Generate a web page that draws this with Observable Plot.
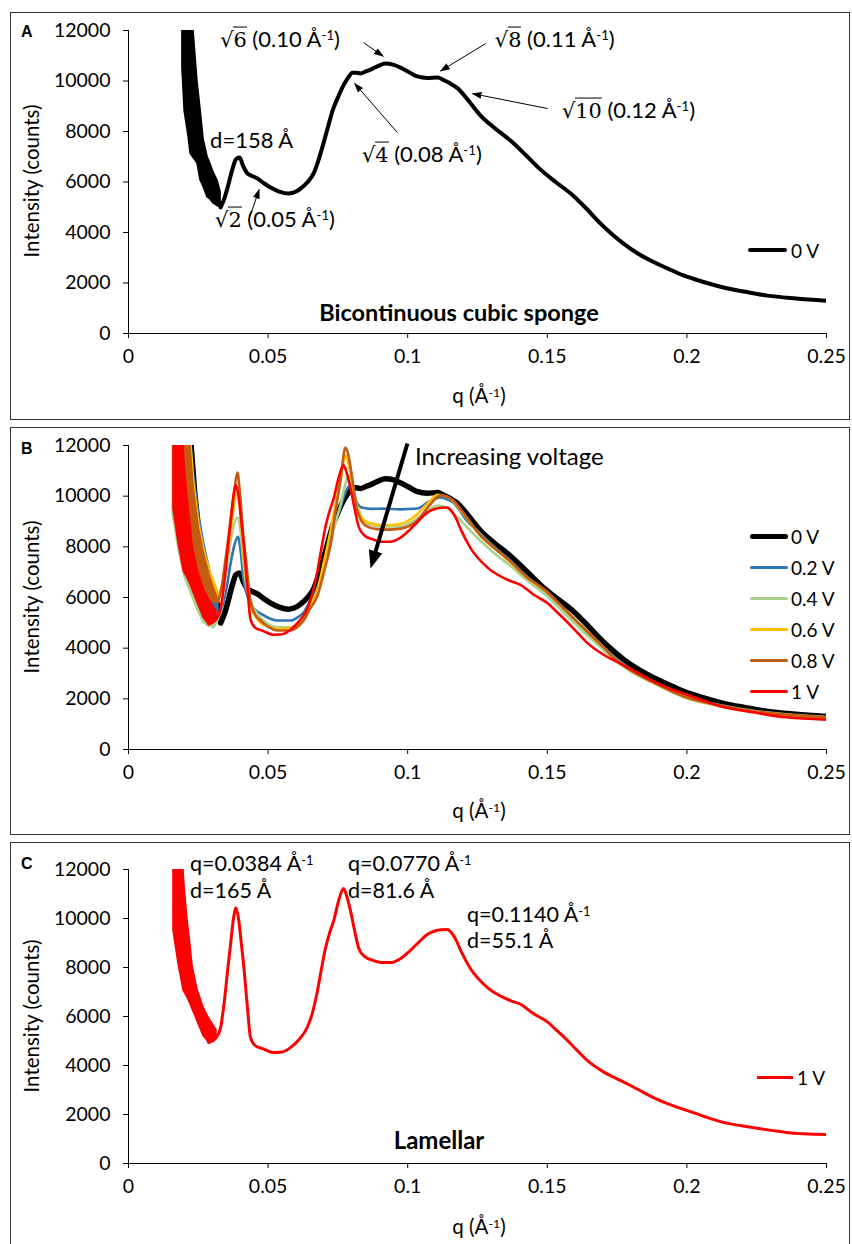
<!DOCTYPE html>
<html>
<head>
<meta charset="utf-8">
<script src="https://cdn.jsdelivr.net/npm/d3@7"></script>
<script src="https://cdn.jsdelivr.net/npm/@observablehq/plot@0.6"></script>
<style>
  body { margin: 0; background: #fff; }
  #page { position: relative; width: 852px; height: 1244px; overflow: hidden; font-family: Lato, "Open Sans", sans-serif; color: #000; }
  #page sup { font-size: 0.6em; vertical-align: 0.5em; line-height: 0; }
  .rad { font-family: "DejaVu Serif", serif; font-size: 0.95em; }
  .vin { border-top: 1.3px solid #000; }
</style>
</head>
<body>
<div id="page"></div>
<script>
// ---------- axes ----------
const xTicks = [0, 0.05, 0.1, 0.15, 0.2, 0.25];
const xTickLabels = ["0", "0.05", "0.1", "0.15", "0.2", "0.25"];
const yTicks = [0, 2000, 4000, 6000, 8000, 10000, 12000];
const yTickLabels = ["0", "2000", "4000", "6000", "8000", "10000", "12000"];

// ---------- series ----------
const seriesNames = ["0 V", "0.2 V", "0.4 V", "0.6 V", "0.8 V", "1 V"];
const seriesColors = ["#000000", "#2e75b6", "#a9d18e", "#ffc000", "#c55a11", "#ff0000"];

// noisy low-q region: [q, lower envelope, upper envelope]
const band0V = [[0.0193,10500,12000],[0.0201,8800,12000],[0.0215,7800,12000],[0.0222,7130,12000],[0.0233,6950,12000],[0.0240,6850,11000],[0.0247,6730,10000],[0.0258,6060,8900],[0.0269,5800,7700],[0.0283,5390,7000],[0.0294,5300,6700],[0.0304,5150,6400],[0.0319,5050,6060],[0.0330,4990,5600]];
const band02V = [[0.0193,10200,12000],[0.0208,8600,12000],[0.0226,7400,12000],[0.0236,7100,10800],[0.0254,6600,9200],[0.0272,6000,8100],[0.0294,5600,7000],[0.0312,5300,6200],[0.0322,5250,5700]];
const band04V = [[0.0158,9300,12000],[0.0179,7900,12000],[0.0201,6800,12000],[0.0211,6500,9900],[0.0229,6000,8200],[0.0247,5500,7100],[0.0269,5000,6300],[0.0287,4850,5700],[0.0304,4820,5200]];
const band06V = [[0.0186,10000,12000],[0.0204,8600,12000],[0.0226,7500,12000],[0.0236,7200,10500],[0.0254,6700,8900],[0.0272,6300,7900],[0.0294,6000,7000],[0.0312,5900,6500],[0.0322,5950,6200]];
const band08V = [[0.0190,10000,12000],[0.0204,8500,12000],[0.0222,7400,12000],[0.0233,7100,10400],[0.0251,6600,8800],[0.0269,6200,7800],[0.0290,5900,6900],[0.0308,5800,6300],[0.0319,5800,6000]];
const band1V = [[0.0161,9500,12000],[0.0179,8160,12000],[0.0197,7060,12000],[0.0202,6950,11140],[0.0211,6770,10000],[0.0222,6500,8900],[0.0229,6300,8100],[0.0247,5800,7100],[0.0269,5200,6360],[0.0287,4940,5950],[0.0301,5000,5700],[0.0315,5150,5450]];

// [q (Å-1), intensity (counts)]
const line0V = [[0.0330,4990],[0.0345,5400],[0.0355,5780],[0.0372,6500],[0.0385,6900],[0.0398,6970],[0.0410,6650],[0.0426,6340],[0.0440,6250],[0.0462,6140],[0.0485,5950],[0.0509,5780],[0.0540,5620],[0.0573,5540],[0.0600,5620],[0.0616,5740],[0.0640,5980],[0.0663,6340],[0.0680,6850],[0.0698,7520],[0.0715,8200],[0.0731,8830],[0.0750,9350],[0.0766,9740],[0.0785,10100],[0.0802,10330],[0.0815,10330],[0.0831,10300],[0.0850,10380],[0.0867,10450],[0.0895,10600],[0.0920,10690],[0.0950,10640],[0.0974,10530],[0.1005,10350],[0.1035,10180],[0.1070,10120],[0.1107,10140],[0.1130,10030],[0.1153,9900],[0.1180,9700],[0.1200,9460],[0.1230,9050],[0.1261,8630],[0.1310,8150],[0.1368,7640],[0.1420,7100],[0.1476,6490],[0.1530,6000],[0.1594,5450],[0.1640,4950],[0.1690,4360],[0.1730,3950],[0.1773,3560],[0.1820,3200],[0.1870,2890],[0.1930,2580],[0.1988,2300],[0.2060,2040],[0.2131,1820],[0.2210,1650],[0.2289,1500],[0.2390,1390],[0.2500,1300]];
const line02V = [[0.0322,5250],[0.0335,5600],[0.0350,6300],[0.0365,7300],[0.0380,8100],[0.0392,8400],[0.0402,7800],[0.0412,6700],[0.0425,6100],[0.0437,5760],[0.0455,5500],[0.0473,5370],[0.0500,5200],[0.0534,5090],[0.0580,5090],[0.0610,5250],[0.0627,5410],[0.0650,5850],[0.0677,6390],[0.0700,7300],[0.0723,8250],[0.0740,9000],[0.0759,9550],[0.0775,10100],[0.0792,10400],[0.0805,10100],[0.0820,9700],[0.0835,9550],[0.0870,9500],[0.0913,9510],[0.0974,9480],[0.1035,9510],[0.1075,9780],[0.1118,9950],[0.1140,9880],[0.1164,9750],[0.1185,9450],[0.1207,9100],[0.1260,8530],[0.1310,8000],[0.1368,7450],[0.1420,6900],[0.1500,6150],[0.1560,5550],[0.1644,4600],[0.1700,4050],[0.1750,3550],[0.1810,3100],[0.1875,2700],[0.1940,2350],[0.2000,2080],[0.2125,1750],[0.2250,1520],[0.2375,1380],[0.2500,1290]];
const line04V = [[0.0304,4820],[0.0318,5100],[0.0330,5500],[0.0343,6400],[0.0355,7400],[0.0370,8500],[0.0390,9160],[0.0400,8700],[0.0410,7600],[0.0419,6670],[0.0437,5880],[0.0455,5450],[0.0473,5210],[0.0500,4950],[0.0534,4820],[0.0580,4820],[0.0610,5000],[0.0627,5210],[0.0650,5700],[0.0677,6280],[0.0700,7150],[0.0723,8050],[0.0740,8900],[0.0759,9630],[0.0775,10400],[0.0788,10810],[0.0800,10400],[0.0813,9830],[0.0830,9300],[0.0850,8950],[0.0913,8800],[0.0974,8800],[0.1035,9120],[0.1075,9450],[0.1107,9630],[0.1140,9550],[0.1153,9430],[0.1180,9150],[0.1207,8840],[0.1260,8250],[0.1310,7750],[0.1368,7250],[0.1420,6750],[0.1500,6050],[0.1560,5400],[0.1644,4500],[0.1700,3950],[0.1750,3450],[0.1810,3000],[0.1875,2650],[0.1940,2300],[0.2000,2020],[0.2125,1700],[0.2250,1480],[0.2375,1340],[0.2500,1250]];
const line06V = [[0.0315,5900],[0.0330,6300],[0.0345,7000],[0.0357,7900],[0.0368,8800],[0.0380,9800],[0.0389,10200],[0.0398,9700],[0.0408,8300],[0.0419,6900],[0.0437,5700],[0.0455,5250],[0.0473,5000],[0.0500,4850],[0.0534,4750],[0.0580,4800],[0.0610,4950],[0.0627,5100],[0.0650,5600],[0.0677,6300],[0.0700,7400],[0.0723,8600],[0.0740,9600],[0.0759,10600],[0.0777,11600],[0.0790,11200],[0.0802,10500],[0.0815,9700],[0.0831,9200],[0.0860,8950],[0.0913,8850],[0.0974,8900],[0.1035,9300],[0.1075,9750],[0.1107,10050],[0.1140,9980],[0.1164,9800],[0.1185,9500],[0.1207,9200],[0.1260,8450],[0.1310,7950],[0.1368,7400],[0.1420,6850],[0.1500,6200],[0.1560,5550],[0.1644,4650],[0.1700,4050],[0.1750,3500],[0.1810,3050],[0.1875,2680],[0.1940,2330],[0.2000,2050],[0.2125,1720],[0.2250,1500],[0.2375,1360],[0.2500,1270]];
const line08V = [[0.0319,5800],[0.0332,6300],[0.0345,7300],[0.0357,8300],[0.0368,9300],[0.0380,10300],[0.0390,10930],[0.0400,10000],[0.0410,8600],[0.0419,7660],[0.0437,5880],[0.0455,5300],[0.0473,5090],[0.0500,4850],[0.0534,4700],[0.0580,4700],[0.0610,4880],[0.0627,5090],[0.0650,5550],[0.0677,6080],[0.0700,7000],[0.0723,8050],[0.0740,9300],[0.0759,10620],[0.0777,11920],[0.0788,11600],[0.0800,10800],[0.0820,9430],[0.0849,8840],[0.0890,8700],[0.0928,8680],[0.0974,8720],[0.1035,9040],[0.1075,9600],[0.1118,10030],[0.1140,9980],[0.1164,9830],[0.1185,9550],[0.1207,9240],[0.1260,8450],[0.1310,7950],[0.1368,7420],[0.1420,6870],[0.1500,6220],[0.1560,5550],[0.1644,4650],[0.1700,4050],[0.1750,3500],[0.1810,3050],[0.1875,2680],[0.1940,2330],[0.2000,2050],[0.2125,1730],[0.2250,1500],[0.2375,1360],[0.2500,1270]];
const line1V = [[0.0287,4940],[0.0300,5000],[0.0315,5150],[0.0330,5550],[0.0343,6600],[0.0355,7870],[0.0366,9000],[0.0376,10000],[0.0384,10440],[0.0394,10000],[0.0403,9100],[0.0412,8160],[0.0425,6500],[0.0437,5140],[0.0455,4800],[0.0480,4690],[0.0520,4530],[0.0550,4550],[0.0580,4730],[0.0610,5050],[0.0640,5550],[0.0660,6200],[0.0677,7060],[0.0692,8000],[0.0706,8810],[0.0720,9400],[0.0735,9910],[0.0752,10700],[0.0770,11220],[0.0782,10900],[0.0795,10320],[0.0810,9500],[0.0824,8810],[0.0845,8450],[0.0878,8280],[0.0910,8200],[0.0938,8200],[0.0974,8360],[0.1005,8650],[0.1035,8980],[0.1070,9350],[0.1100,9500],[0.1120,9540],[0.1140,9550],[0.1158,9400],[0.1172,9150],[0.1190,8690],[0.1225,7950],[0.1286,7180],[0.1368,6650],[0.1404,6500],[0.1450,6120],[0.1500,5780],[0.1537,5400],[0.1558,5180],[0.1600,4700],[0.1644,4200],[0.1700,3750],[0.1762,3390],[0.1820,3050],[0.1880,2690],[0.1940,2400],[0.2002,2160],[0.2060,1930],[0.2120,1710],[0.2235,1470],[0.2357,1270],[0.2500,1180]];

const seriesLines = [line0V, line02V, line04V, line06V, line08V, line1V];
const seriesBands = [band0V, band02V, band04V, band06V, band08V, band1V];

// ---------- annotations (data units) ----------
// panel A: reflection index, q label, text anchor [q, I], arrow [q1, I1, q2, I2]
const rootIndex = ["2", "4", "6", "8", "10"];
const rootQ = ["0.05", "0.08", "0.10", "0.11", "0.12"];
const rootText = [[0.0312, 4510], [0.0838, 7090], [0.0330, 11640], [0.1314, 11640], [0.1554, 8830]];
const rootArrows = [[0.0430, 4470, 0.0468, 5700], [0.0963, 7960, 0.0810, 9900], [0.0842, 11520, 0.0912, 10980], [0.1279, 11480, 0.1118, 10400], [0.1501, 8910, 0.1232, 9500]];
const spacingA = ["d=158 Å", 0.0294, 7640];
// panel B
const voltageNote = ["Increasing voltage", 0.1028, 11560];
const voltageArrow = [[0.0999, 12080, 0.0873, 7370]];
// panel C: lamellar reflections
const peakQ = ["0.0384", "0.0770", "0.1140"];
const peakD = ["165", "81.6", "55.1"];
const peakText = [[0.0222, 12220, 11100], [0.0788, 12220, 11100], [0.1214, 10120, 9060]];

// ---------- layout ----------
const page = document.getElementById("page");
function el(tag, css, html) {
  const e = document.createElement(tag);
  e.style.cssText = css;
  if (html != null) e.innerHTML = html;
  page.appendChild(e);
  return e;
}
function text(html, x, y, css = "", anchor = "start") {
  const tx = anchor === "middle" ? "-50%" : anchor === "end" ? "-100%" : "0";
  return el("div", `position:absolute;left:${x}px;top:${y}px;transform:translate(${tx},-50%);white-space:nowrap;line-height:1;${css}`, html);
}
function frame(top, height) {
  el("div", `position:absolute;left:10px;top:${top}px;width:840px;height:${height}px;border:1.5px solid #333;box-sizing:border-box;`);
}

function seriesMarks(k, width) {
  const band = seriesBands[k].map(([q, lo, hi]) => ({q, lo, hi}));
  const line = seriesLines[k].map(([q, I]) => ({q, I}));
  const color = seriesColors[k];
  return [
    Plot.area(band, {x1: "q", y1: "lo", y2: "hi", fill: color, stroke: color, strokeWidth: 1.5, clip: true}),
    Plot.line(line, {x: "q", y: "I", stroke: color, strokeWidth: width, curve: "monotone-x", strokeLinejoin: "round", strokeLinecap: "round", clip: true})
  ];
}

function arrows(list, width) {
  return Plot.link(list.map(([q1, I1, q2, I2]) => ({q1, I1, q2, I2})),
    {x1: "q1", y1: "I1", x2: "q2", y2: "I2", stroke: "#000", strokeWidth: width, markerEnd: "arrow"});
}

// solid triangular heads for the arrows
function solidHeads(svg, len, wid, over) {
  svg.querySelectorAll("marker").forEach(m => {
    const color = m.getAttribute("stroke") || "#000";
    m.setAttribute("viewBox", `${-len + over} ${-wid / 2} ${len} ${wid}`);
    m.setAttribute("markerWidth", len);
    m.setAttribute("markerHeight", wid);
    m.setAttribute("markerUnits", "userSpaceOnUse");
    m.setAttribute("fill", color);
    m.setAttribute("stroke", "none");
    while (m.firstChild) m.removeChild(m.firstChild);
    const p = document.createElementNS("http://www.w3.org/2000/svg", "path");
    p.setAttribute("d", `M${-len + over},${-wid / 2}L${over},0L${-len + over},${wid / 2}Z`);
    m.appendChild(p);
  });
}

function makePlot(top, height, marginTop, marginBottom, marks) {
  const svg = Plot.plot({
    width: 852, height, marginTop, marginBottom, marginLeft: 128, marginRight: 26,
    style: {fontFamily: "Lato, sans-serif", fontSize: "19.5px", color: "#000", background: "none", overflow: "visible"},
    x: {domain: [0, 0.25], ticks: xTicks, tickFormat: d => xTickLabels[xTicks.indexOf(d)], tickSize: 5, tickPadding: 11, line: true, label: null},
    y: {domain: [0, 12000], ticks: yTicks, tickFormat: d => yTickLabels[yTicks.indexOf(d)], tickSize: 5, tickPadding: 13, line: true, label: null},
    marks
  });
  svg.style.position = "absolute";
  svg.style.left = "0px";
  svg.style.top = top + "px";
  page.appendChild(svg);
  const sx = svg.scale("x"), sy = svg.scale("y");
  const lin = (s, v) => s.apply ? s.apply(v) : s.range[0] + (v - s.domain[0]) / (s.domain[1] - s.domain[0]) * (s.range[1] - s.range[0]);
  return {svg, px: q => lin(sx, q), py: I => top + lin(sy, I)};
}

function axisTitles(cy, qy) {
  text("Intensity (counts)", 31, cy, "font-size:20.5px;transform:translate(-50%,-50%) rotate(-90deg);");
  text("q (Å<sup>-1</sup>)", 479, qy, "font-size:20.5px;", "middle");
}

// ===== Panel A: 0 V =====
frame(12, 408);
const A = makePlot(0, 420, 30, 87, [
  ...seriesMarks(0, 4),
  arrows(rootArrows, 1)
]);
solidHeads(A.svg, 10, 7, 1);
axisTitles(181, 395);
text("A", 21, 32, "font-family:'Liberation Sans',Arial,sans-serif;font-weight:bold;font-size:16px;");
text(spacingA[0], A.px(spacingA[1]), A.py(spacingA[2]), "font-size:22px;");
rootIndex.forEach((r, i) => {
  const [q, I] = rootText[i];
  text(`<span class="rad">√<span class="vin">${r}</span></span> (${rootQ[i]} Å<sup>-1</sup>)`, A.px(q), A.py(I), "font-size:22px;");
});
text("Bicontinuous cubic sponge", 459, 313, "font-weight:bold;font-size:23.5px;", "middle");
// legend
el("div", `position:absolute;left:748px;top:248px;width:39px;height:4px;background:${seriesColors[0]};border-radius:2px;`);
text(seriesNames[0], 791, 250, "font-size:19px;");

// ===== Panel B: voltage series =====
frame(427, 408);
const B = makePlot(420, 415, 25, 86, [
  ...seriesMarks(0, 5.5),
  ...seriesMarks(1, 2.6),
  ...seriesMarks(2, 2.6),
  ...seriesMarks(3, 2.6),
  ...seriesMarks(4, 2.6),
  ...seriesMarks(5, 2.6),
  arrows(voltageArrow, 4)
]);
solidHeads(B.svg, 18, 14, 6);
axisTitles(597, 810);
text("B", 21, 449, "font-family:'Liberation Sans',Arial,sans-serif;font-weight:bold;font-size:16px;");
text(voltageNote[0], B.px(voltageNote[1]), B.py(voltageNote[2]), "font-size:24px;");
seriesNames.forEach((name, k) => {
  const y = 536 + k * 31;
  const h = k === 0 ? 5 : 3;
  el("div", `position:absolute;left:750px;top:${y - h / 2}px;width:38px;height:${h}px;background:${seriesColors[k]};border-radius:${h / 2}px;`);
  text(name, 791, y, "font-size:19px;");
});

// ===== Panel C: 1 V =====
frame(842, 420);
const C = makePlot(835, 409, 34, 81, seriesMarks(5, 3));
axisTitles(1016, 1226);
text("C", 21, 864, "font-family:'Liberation Sans',Arial,sans-serif;font-weight:bold;font-size:16px;");
peakQ.forEach((q, i) => {
  const [tq, I1, I2] = peakText[i];
  text(`q=${q} Å<sup>-1</sup>`, C.px(tq), C.py(I1), "font-size:21.5px;");
  text(`d=${peakD[i]} Å`, C.px(tq), C.py(I2), "font-size:21.5px;");
});
text("Lamellar", 439, 1140, "font-weight:bold;font-size:24px;", "middle");
el("div", `position:absolute;left:757px;top:1075.5px;width:36px;height:3px;background:${seriesColors[5]};`);
text(seriesNames[5], 797, 1077, "font-size:19px;");
</script>
</body>
</html>
